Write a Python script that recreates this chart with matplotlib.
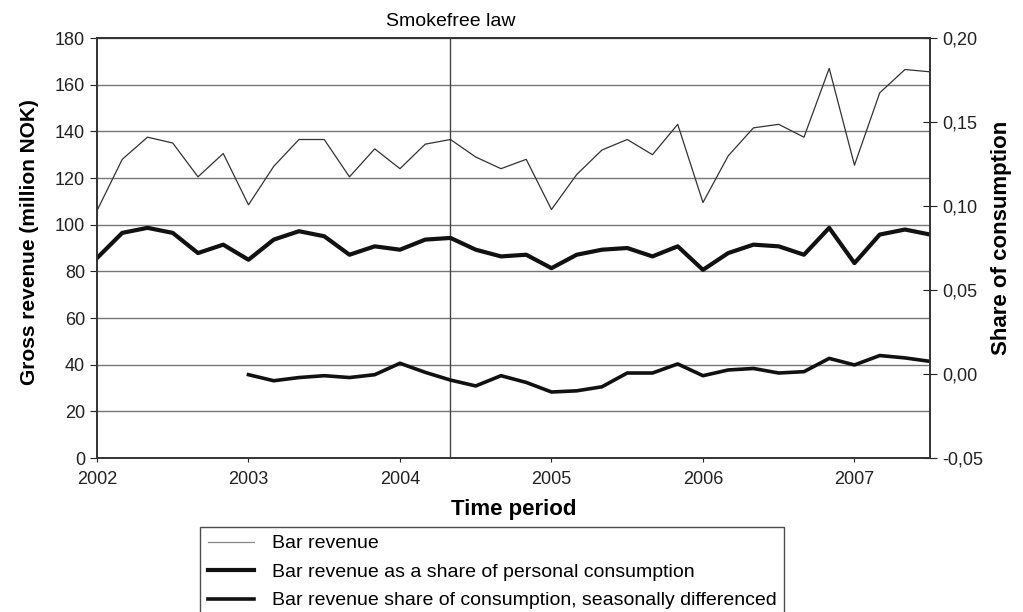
import numpy as np
import matplotlib
matplotlib.use("Agg")
import matplotlib.pyplot as plt

plt.rcParams["font.family"] = ["Liberation Sans", "DejaVu Sans"]

# bimonthly periods, Jan/Feb 2002 .. May/Jun 2007
years = ["2002", "2003", "2004", "2005", "2006", "2007"]
periods_per_year = 6
law_period = 14  # May/Jun 2004

# gross bar revenue, million NOK
bar_revenue = [106, 128, 137.5, 135, 120.5, 130.5, 108.5, 125, 136.5, 136.5, 120.5, 132.5,
               124, 134.5, 136.5, 129, 124, 128, 106.5, 121.5, 132, 136.5, 130, 143,
               109.5, 129.5, 141.5, 143, 137.5, 167, 125.5, 156.5, 166.5, 165.5]

# bar revenue as a share of personal consumption
share = [0.069, 0.084, 0.087, 0.084, 0.072, 0.077, 0.068, 0.080, 0.085, 0.082, 0.071, 0.076,
         0.074, 0.080, 0.081, 0.074, 0.070, 0.071, 0.063, 0.071, 0.074, 0.075, 0.070, 0.076,
         0.062, 0.072, 0.077, 0.076, 0.071, 0.087, 0.066, 0.083, 0.086, 0.083]

# seasonally differenced share (starts one year in)
share_diff = [None] * 6 + [
    -0.0004, -0.0040, -0.0021, -0.0010, -0.0021, -0.0004, 0.0064, 0.0010, -0.0036, -0.0071,
    -0.0010, -0.0050, -0.0107, -0.0100, -0.0076, 0.0006, 0.0006, 0.0060, -0.0010, 0.0024,
    0.0033, 0.0006, 0.0014, 0.0093, 0.0054, 0.0110, 0.0096, 0.0075]

x = np.arange(len(bar_revenue))
diff = np.array([np.nan if v is None else v for v in share_diff])

fig = plt.figure(figsize=(10.23, 6.12), dpi=100)
ax = fig.add_axes([0.0948, 0.2516, 0.8145, 0.6863])
ax2 = ax.twinx()

ax.set_xlim(0, len(x) - 1)
ax.set_ylim(0, 180)
ax2.set_ylim(-0.05, 0.20)

ax.set_yticks(np.arange(0, 181, 20))
ax.grid(axis="y", color="#777777", lw=1.0)
ax.set_axisbelow(True)
ax.set_xticks(np.arange(0, len(x), periods_per_year))
ax.set_xticklabels(years)
ax2.set_yticks(np.arange(-0.05, 0.201, 0.05))
ax2.set_yticklabels([f"{v:.2f}".replace(".", ",") for v in np.arange(-0.05, 0.201, 0.05)])

ax.axvline(law_period, color="#444444", lw=1.0)
ax.text(law_period, 183.5, "Smokefree law", ha="center", va="bottom", fontsize=14)

l1, = ax.plot(x, bar_revenue, color="#333333", lw=0.9, label="Bar revenue")
l2, = ax2.plot(x, share, color="#111111", lw=3.0, label="Bar revenue as a share of personal consumption")
l3, = ax2.plot(x, diff, color="#111111", lw=2.6,
               label="Bar revenue share of consumption, seasonally differenced")

for a in (ax, ax2):
    for s in a.spines.values():
        s.set_color("#333333")
        s.set_linewidth(1.2)
    a.tick_params(labelsize=13, colors="#222222", length=5)
ax.tick_params(axis="x", length=3, pad=6)
ax2.tick_params(axis="y", direction="inout", length=10)

ax.set_xlabel("Time period", fontsize=16, fontweight="bold", labelpad=8)
ax.set_ylabel("Gross revenue (million NOK)", fontsize=15, fontweight="bold")
ax2.set_ylabel("Share of consumption", fontsize=16, fontweight="bold")
ax.yaxis.set_label_coords(-0.069, 0.513)
ax2.yaxis.set_label_coords(1.073, 0.525)

leg = fig.legend(handles=[l1, l2, l3], loc="upper left", bbox_to_anchor=(0.1955, 0.139),
                 borderaxespad=0, fontsize=14, frameon=True, fancybox=False,
                 edgecolor="#222222", handlelength=2.4, labelspacing=0.56,
                 borderpad=0.4, handletextpad=0.9)
leg.get_frame().set_linewidth(1.0)
leg.legend_handles[0].set_color("#888888")

fig.savefig("out.png", dpi=100)
